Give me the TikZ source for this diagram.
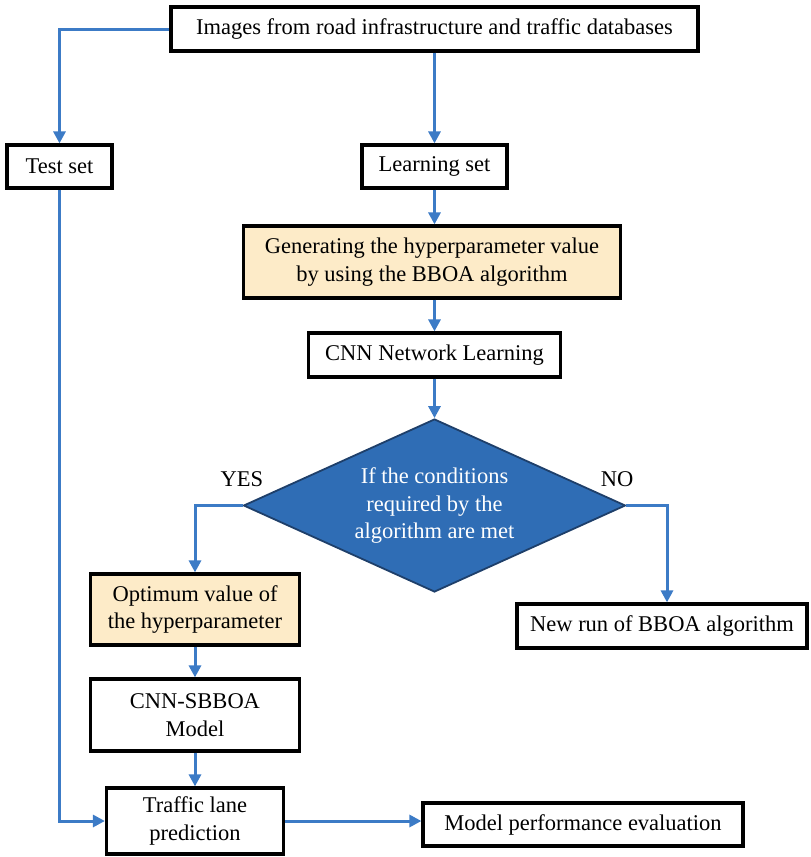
\documentclass[tikz,border=0pt]{standalone}
\usepackage{fontspec}
\setmainfont{Liberation Serif}
\usetikzlibrary{arrows.meta,shapes.geometric,calc}
\definecolor{linkblue}{HTML}{3C7BC6}
\definecolor{diafill}{HTML}{2F6DB5}
\definecolor{diaborder}{HTML}{1E3F6A}
\definecolor{paleyellow}{HTML}{FDEBC8}
\tikzset{
  box/.style={draw=black, line width=3.2pt, fill=white, inner sep=2pt, align=center,
              font=\fontsize{22.5}{27.5}\selectfont},
  ybox/.style={box, fill=paleyellow},
  dec/.style={diamond, draw=diaborder, line width=1.8pt, fill=diafill, text=white,
              align=center, inner sep=0pt, aspect=2.2,
              font=\fontsize{22.5}{27.5}\selectfont},
  lbl/.style={font=\fontsize{22.5}{27.5}\selectfont, inner sep=0pt},
  link/.style={draw=linkblue, line width=3pt,
               -{Triangle[length=12pt,width=12pt]}},
}
\begin{document}
\begin{tikzpicture}[x=1pt,y=-1pt]
\useasboundingbox (0,0) rectangle (811,857);
\node[box, minimum width=527pt, minimum height=44pt] (top) at (434.5,29) {Images from road infrastructure and traffic databases};
\node[box, minimum width=105pt, minimum height=43pt] (test) at (59.5,166.5) {Test set};
\node[box, minimum width=145pt, minimum height=43pt] (learn) at (434.5,166.5) {Learning set};
\node[ybox, minimum width=377pt, minimum height=72pt] (gen) at (432,262) {Generating the hyperparameter value\\by using the BBOA algorithm};
\node[box, minimum width=252pt, minimum height=44pt] (cnn) at (434.5,355) {CNN Network Learning};
\node[dec, minimum width=382pt, minimum height=173pt] (dia) at (434.5,505.5) {If the conditions\\required by the\\algorithm are met};
\node[lbl] (yes) at (242,479) {YES};
\node[lbl] (no) at (617,479) {NO};
\node[ybox, minimum width=209pt, minimum height=71pt] (opt) at (195,609.5) {Optimum value of\\the hyperparameter};
\node[box, minimum width=290pt, minimum height=44pt] (newrun) at (662,626) {New run of BBOA algorithm};
\node[box, minimum width=209pt, minimum height=72pt] (sbboa) at (195,715) {CNN-SBBOA\\Model};
\node[box, minimum width=177pt, minimum height=66pt] (traffic) at (195,821) {Traffic lane\\prediction};
\node[box, minimum width=320pt, minimum height=43pt] (model) at (583,824.5) {Model performance evaluation};

\draw[link] (top.west) -| (test.north);
\draw[link] (top.south) -- (learn.north);
\draw[link] (learn.south) -- (learn.south |- gen.north);
\draw[link] (gen.south -| cnn.north) -- (cnn.north);
\draw[link] (cnn.south) -- (dia.north);
\draw[link] (dia.west) -| (opt.north);
\draw[link] (dia.east) -| ([xshift=5pt]newrun.north);
\draw[link] (opt.south) -- (sbboa.north);
\draw[link] (sbboa.south) -- (traffic.north);
\draw[link] (test.south) |- (traffic.west);
\draw[link] (traffic.east) -- (traffic.east -| model.west);
\end{tikzpicture}
\end{document}
